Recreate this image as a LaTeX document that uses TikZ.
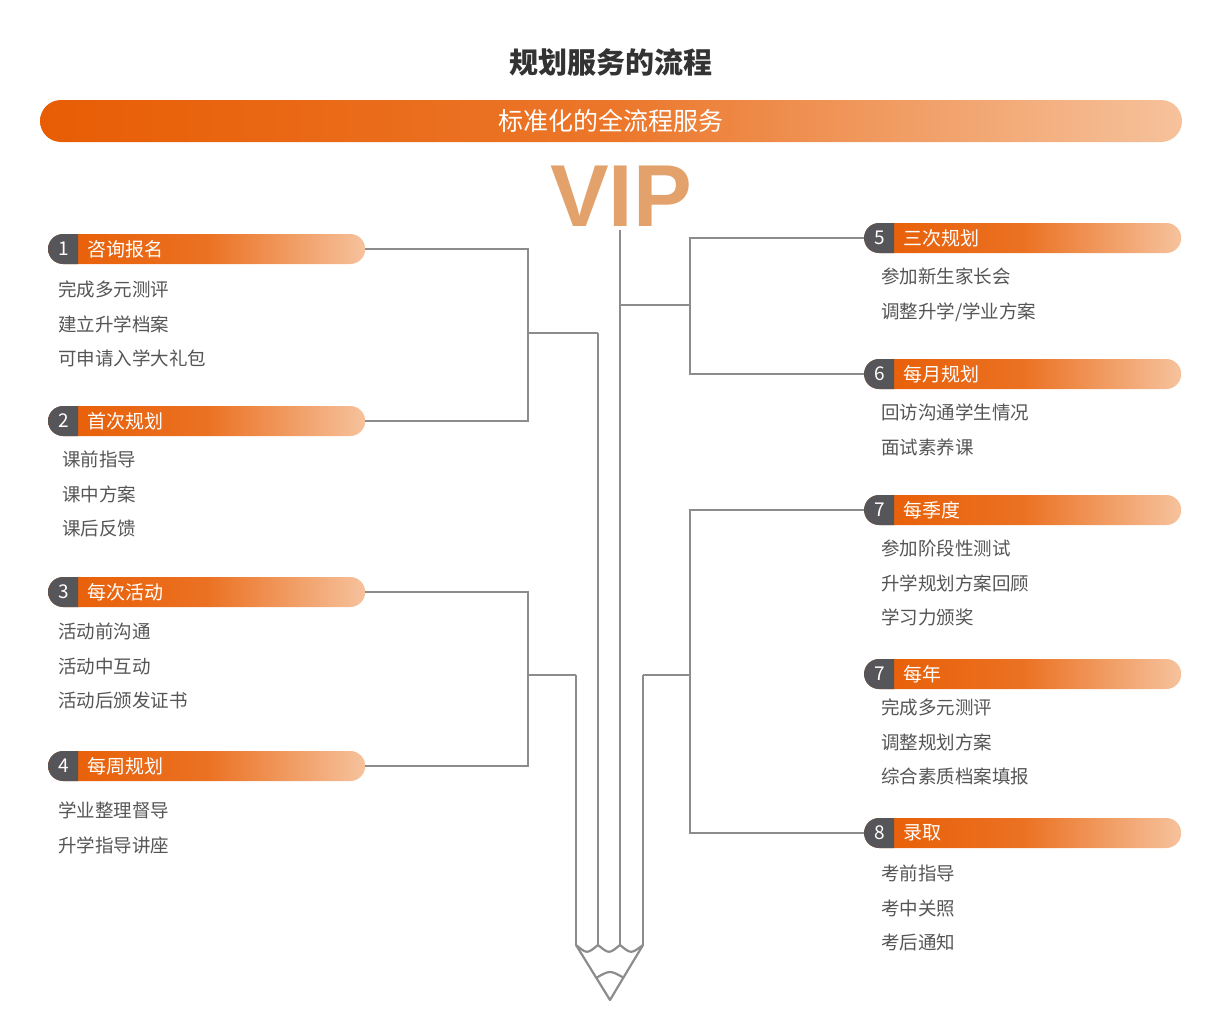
\documentclass[tikz,border=0pt]{standalone}
\usepackage{fontspec}
\setmainfont{Noto Sans CJK SC}
\newfontfamily\vipfont{Liberation Sans}
\usetikzlibrary{positioning, calc}
\definecolor{deeporange}{HTML}{E85D04}
\definecolor{paleorange}{HTML}{F6C29C}
\definecolor{numgray}{HTML}{56565A}
\definecolor{linegray}{HTML}{8C8C8C}
\definecolor{textgray}{HTML}{555555}
\definecolor{vipcolor}{HTML}{E3A26C}

\tikzset{
    pill/.style={rectangle, rounded corners=15pt, minimum width=317pt, minimum height=30pt, inner sep=0pt, left color=deeporange, right color=paleorange, middle color=deeporange!80!paleorange},
    numcap/.style={numgray},
    headtext/.style={anchor=west, text=white, font=\fontsize{19}{19}\selectfont, inner sep=0pt},
    numtext/.style={text=white, font=\fontsize{19}{19}\selectfont, inner sep=0pt},
    items/.style={anchor=north west, align=left, text=textgray, font=\fontsize{18.5}{34.5}\selectfont, inner sep=0pt},
    link/.style={draw=linegray, line width=2.2pt},
    pencil/.style={draw=linegray, line width=2.2pt, line join=round}
}

% one stage header: x, y, number, label, name
\newcommand{\stagehead}[5]{
    \node[pill, anchor=west] (#5) at (#1,#2) {};
    \fill[numcap] (#1+30,#2-15) -- (#1+15,#2-15) arc[start angle=90, end angle=270, radius=15pt] -- (#1+30,#2+15) -- cycle;
    \node[numtext] (#5n) at (#1+16,#2) {#3};
    \node[headtext] (#5t) at (#1+39,#2) {#4};
}

\begin{document}
\begin{tikzpicture}[x=1pt, y=-1pt]
\useasboundingbox (0,0) rectangle (1216,1034);

% title and banner
\node[font=\fontsize{29}{29}\selectfont\bfseries, text=black!80] (title) at (611,62) {规划服务的流程};
\node[rectangle, rounded corners=21pt, minimum width=1142pt, minimum height=42pt, left color=deeporange, right color=paleorange, middle color=deeporange!75!paleorange, text=white, font=\fontsize{25}{25}\selectfont] (banner) at (611,121) {标准化的全流程服务};
\node[font=\vipfont\bfseries\fontsize{88}{88}\selectfont, text=vipcolor, inner sep=0pt] (vip) at (621,196) {VIP};

% pencil body
\coordinate (p1) at (576,945);
\coordinate (p2) at (598,945);
\coordinate (p3) at (620,945);
\coordinate (p4) at (643,945);
\coordinate (tip) at (610,1000);
\draw[pencil] (576,675) -- (p1);
\draw[pencil] (598,333) -- (p2);
\draw[pencil] (620,230) -- (p3);
\draw[pencil] (643,675) -- (p4);
\draw[pencil] (p1) .. controls (587,954) .. (p2) .. controls (609,954) .. (p3) .. controls (631,954) .. (p4);
\draw[pencil] (p1) -- (tip) -- (p4);
\draw[pencil] (596,978) .. controls (610,970) .. (624,978);

% left stages
\stagehead{48}{249}{1}{咨询报名}{h1}
\stagehead{48}{421}{2}{首次规划}{h2}
\stagehead{48}{592}{3}{每次活动}{h3}
\stagehead{48}{766}{4}{每周规划}{h4}

% right stages
\stagehead{864}{238}{5}{三次规划}{h5}
\stagehead{864}{374}{6}{每月规划}{h6}
\stagehead{864}{510}{7}{每季度}{h7}
\stagehead{864}{674}{7}{每年}{h8}
\stagehead{864}{833}{8}{录取}{h9}

% items
\node[items] (i1) at (58,281) {完成多元测评\\建立升学档案\\可申请入学大礼包};
\node[items] (i2) at (62,451) {课前指导\\课中方案\\课后反馈};
\node[items] (i3) at (58,623) {活动前沟通\\活动中互动\\活动后颁发证书};
\node[items] (i4) at (58,802) {学业整理督导\\升学指导讲座};
\node[items] (i5) at (881,268) {参加新生家长会\\调整升学/学业方案};
\node[items] (i6) at (881,404) {回访沟通学生情况\\面试素养课};
\node[items] (i7) at (881,540) {参加阶段性测试\\升学规划方案回顾\\学习力颁奖};
\node[items] (i8) at (881,699) {完成多元测评\\调整规划方案\\综合素质档案填报};
\node[items] (i9) at (881,865) {考前指导\\考中关照\\考后通知};

% connectors
\coordinate (j1) at (528,333);
\coordinate (j2) at (528,675);
\coordinate (j3) at (690,305);
\coordinate (j4) at (690,675);
\draw[link] (h1.east) -| (j1) |- (h2.east);
\draw[link] (j1) -- (598,333);
\draw[link] (h3.east) -| (j2) |- (h4.east);
\draw[link] (j2) -- (576,675);
\draw[link] (h5.west) -| (j3) |- (h6.west);
\draw[link] (j3) -- (620,305);
\draw[link] (h7.west) -| (j4) |- (h9.west);
\draw[link] (j4) -- (643,675);

\end{tikzpicture}
\end{document}
